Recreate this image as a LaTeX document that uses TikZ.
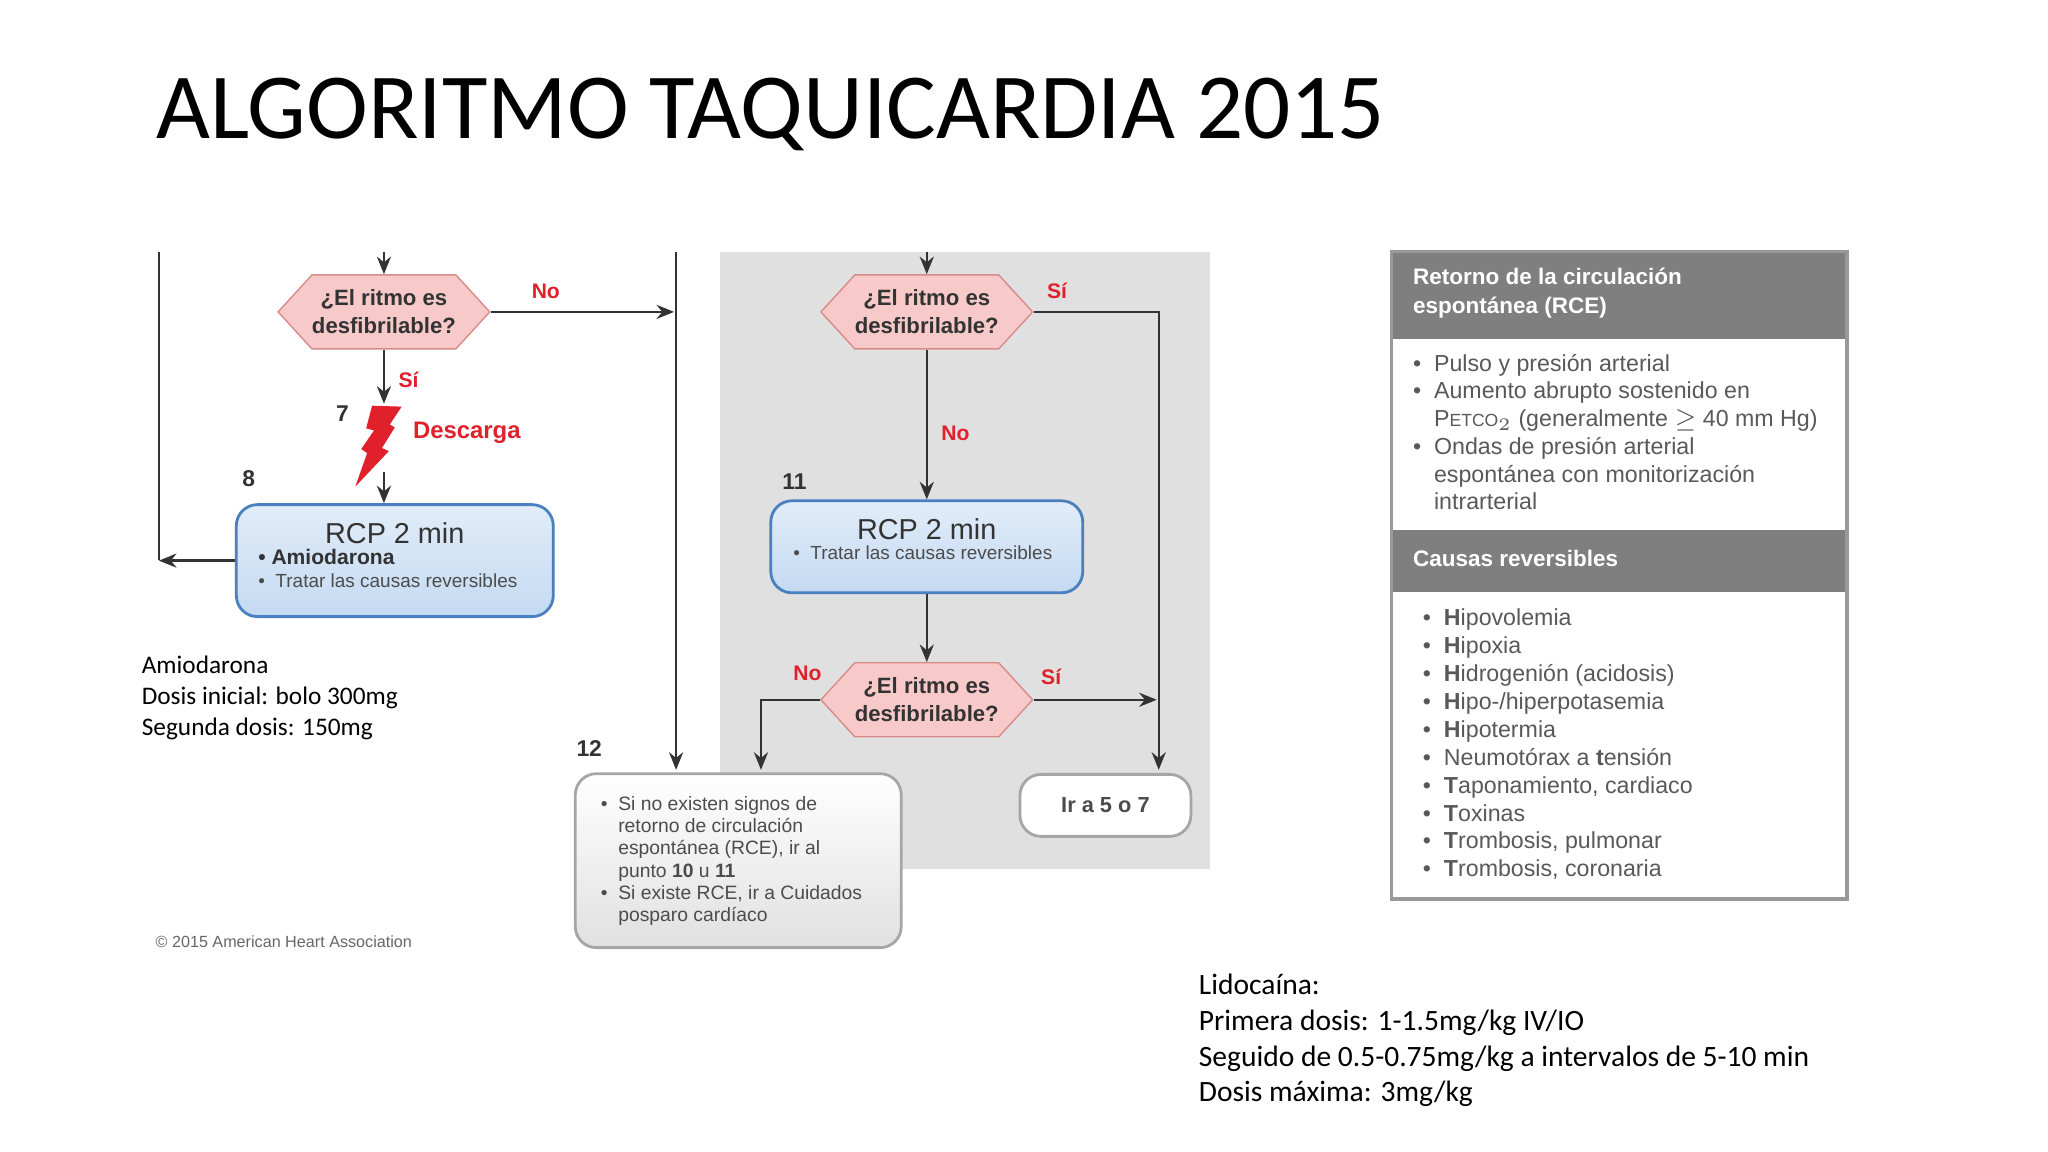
\documentclass[tikz,border=0pt]{standalone}
\usepackage{fontspec}
\setmainfont{Carlito}
\newfontfamily\ar{Liberation Sans}
\usetikzlibrary{shapes.symbols,arrows.meta}
\definecolor{redt}{HTML}{E0202A}
\definecolor{hexf}{HTML}{F7C9C9}
\definecolor{hexd}{HTML}{D98A8A}
\definecolor{bluf}{HTML}{C4DAF2}
\definecolor{blud}{HTML}{4A7FC0}
\definecolor{txt}{HTML}{333333}
\definecolor{hdr}{HTML}{7F7F7F}
\tikzset{
 hexa/.style={signal, signal to=west and east, signal pointer angle=95, draw=hexd, fill=hexf, minimum width=2.07cm, minimum height=0.74cm, inner sep=0pt, align=center, font=\ar\bfseries\fontsize{6.3}{8}\selectfont, text=txt},
 rcp/.style={draw=blud, line width=0.8pt, rounded corners=6pt, top color=bluf!50, bottom color=bluf},
 grayb/.style={draw=gray!70, line width=0.8pt, rounded corners=6pt},
 arr/.style={-{Stealth[length=5pt,width=4pt]}, line width=0.7pt, draw=black!80},
 ln/.style={line width=0.7pt, draw=black!80},
 lab/.style={text=redt, font=\ar\bfseries\fontsize{6}{7}\selectfont},
 num/.style={font=\ar\bfseries\fontsize{6.5}{7}\selectfont, text=txt},
 sm/.style={font=\ar\fontsize{5.4}{6.4}\selectfont, text=black!70, anchor=west, inner sep=0pt},
 rt/.style={font=\ar\fontsize{6.6}{7.9}\selectfont, text=black!65, anchor=west, inner sep=0pt},
 note/.style={font=\fontsize{7.2}{8.9}\selectfont, anchor=north west, align=left, inner sep=0pt},
}
\begin{document}
\begin{tikzpicture}[x=0.00987cm,y=-0.00987cm]
\useasboundingbox (0,0) rectangle (2075,1167);
\fill[white] (0,0) rectangle (2075,1167);
\node[anchor=west,inner sep=0pt,font=\fontsize{26.5}{30}\selectfont] (title) at (158,116) {ALGORITMO TAQUICARDIA 2015};
% gray region
\fill[black!12] (729,255) rectangle (1226,880);
% left column
\coordinate (t1) at (389,255);
\node[hexa] (d1) at (389,316) {¿El ritmo es\\desfibrilable?};
\draw[arr] (t1) -- (d1.north);
\coordinate (lt) at (161,255);
\coordinate (lb) at (161,567);
\coordinate (rt) at (685,255);
\coordinate (rb) at (685,780);
\draw[ln] (lt) -- (lb);
\draw[arr] (d1.east) -- (d1.east -| 683,0);
\node[lab] (no1) at (553,295) {No};
\draw[arr] (rt) -- (rb);
\node[lab] (si1) at (414,385) {Sí};
\coordinate (bt) at (389,409);
\draw[arr] (d1.south) -- (bt);
\fill[redt] (377,411)--(407,412)--(395,430)--(400,433)--(387,454)--(394,457)--(360,493)--(372,459)--(366,455)--(379,436)--(371,434)--cycle;
\node[num] (n7) at (347,419) {7};
\node[lab,font=\ar\bfseries\fontsize{6.8}{8}\selectfont] (desc) at (473,438) {Descarga};
\node[num] (n8) at (252,485) {8};
\node[rcp, minimum width=3.17cm, minimum height=1.12cm] (b1) at (400,568) {};
\coordinate (bb) at (389,478);
\draw[arr] (bb) -- (bb |- b1.north);
\draw[arr] (b1.west) -- (b1.west -| lb);
\node[font=\ar\fontsize{8.2}{10}\selectfont, text=txt] (b1t) at (400,540) {RCP 2 min};
\node[sm, font=\ar\bfseries\fontsize{6}{7}\selectfont, text=txt] (b1a) at (261,564) {•\ Amiodarona};
\node[sm] (b1b) at (261,588) {•\ \ Tratar las causas reversibles};
% middle column
\coordinate (t2) at (939,255);
\node[hexa] (d2) at (939,316) {¿El ritmo es\\desfibrilable?};
\draw[arr] (t2) -- (d2.north);
\node[lab] (si2) at (1071,295) {Sí};
\node[lab] (no2) at (968,439) {No};
\node[num] (n11) at (805,488) {11};
\node[rcp, minimum width=3.12cm, minimum height=0.92cm] (b2) at (939,554) {};
\draw[arr] (d2.south) -- (b2.north);
\node[font=\ar\fontsize{8.2}{10}\selectfont, text=txt] (b2t) at (939,536) {RCP 2 min};
\node[sm] (b2b) at (803,560) {•\ \ Tratar las causas reversibles};
\node[hexa] (d3) at (939,709) {¿El ritmo es\\desfibrilable?};
\draw[arr] (b2.south) -- (d3.north);
\node[lab] (no3) at (818,682) {No};
\node[lab] (si3) at (1065,686) {Sí};
\node[grayb, fill=white, minimum width=1.71cm, minimum height=0.62cm, font=\ar\bfseries\fontsize{6.2}{7}\selectfont, text=black!70] (ir) at (1120,816) {Ir a 5 o 7};
\draw[arr] (d2.east) -- (d2.east -| 1174,0) -- (1174,780);
\draw[arr] (d3.east) -- (d3.east -| 1172,0);
\node[grayb, top color=white, bottom color=black!12, minimum width=3.26cm, minimum height=1.74cm] (b3) at (748,872) {};
\draw[arr] (d3.west) -- (d3.west -| 771,0) -- (771,780);
\node[num] (n12) at (597,758) {12};
\node[sm, anchor=north west, align=left, font=\ar\fontsize{5.5}{6.35}\selectfont] (b3t) at (608,806) {•\ \ Si no existen signos de\\\phantom{•\ \ }retorno de circulación\\\phantom{•\ \ }espontánea (RCE), ir al\\\phantom{•\ \ }punto \textbf{10} u \textbf{11}\\•\ \ Si existe RCE, ir a Cuidados\\\phantom{•\ \ }posparo cardíaco};
\node[sm, font=\ar\fontsize{4.6}{5}\selectfont, text=black!60] (copy) at (157,954) {© 2015 American Heart Association};
% right box
\node[minimum width=4.54cm, minimum height=6.46cm, inner sep=0pt, anchor=north west] (rbox) at (1410,255) {};
\fill[hdr] (rbox.north west) rectangle (rbox.east |- 0,343);
\fill[hdr] (rbox.west |- 0,537) rectangle (rbox.east |- 0,600);
\draw[black!40, line width=1pt] (rbox.north west) rectangle (rbox.south east);
\node[rt, text=white, font=\ar\bfseries\fontsize{6.4}{8.3}\selectfont, anchor=north west, align=left] (h1) at (1431,271) {Retorno de la circulación\\espontánea (RCE)};
\node[rt, text=white, font=\ar\bfseries\fontsize{6.4}{8}\selectfont] (h2) at (1431,566) {Causas reversibles};
\node[rt, anchor=north west, align=left] (r1) at (1431,358) {•\ \ Pulso y presión arterial\\•\ \ Aumento abrupto sostenido en\\\phantom{•\ \ }P{\fontsize{5}{5}\selectfont ETCO}$_2$ (generalmente $\geq$ 40 mm Hg)\\•\ \ Ondas de presión arterial\\\phantom{•\ \ }espontánea con monitorización\\\phantom{•\ \ }intrarterial};
\node[rt, anchor=north west, align=left, font=\ar\fontsize{6.6}{7.95}\selectfont] (r2) at (1441,616) {•\ \ \textbf{H}ipovolemia\\•\ \ \textbf{H}ipoxia\\•\ \ \textbf{H}idrogenión (acidosis)\\•\ \ \textbf{H}ipo-/hiperpotasemia\\•\ \ \textbf{H}ipotermia\\•\ \ Neumotórax a \textbf{t}ensión\\•\ \ \textbf{T}aponamiento, cardiaco\\•\ \ \textbf{T}oxinas\\•\ \ \textbf{T}rombosis, pulmonar\\•\ \ \textbf{T}rombosis, coronaria};
% notes
\node[note, font=\fontsize{7.2}{8.8}\selectfont] (amio) at (143,664) {Amiodarona\\Dosis inicial: bolo 300mg\\Segunda dosis: 150mg};
\node[note, font=\fontsize{8.4}{10.2}\selectfont] (lido) at (1214,986) {Lidocaína:\\Primera dosis: 1-1.5mg/kg IV/IO\\Seguido de 0.5-0.75mg/kg a intervalos de 5-10 min\\Dosis máxima: 3mg/kg};
\end{tikzpicture}
\end{document}
